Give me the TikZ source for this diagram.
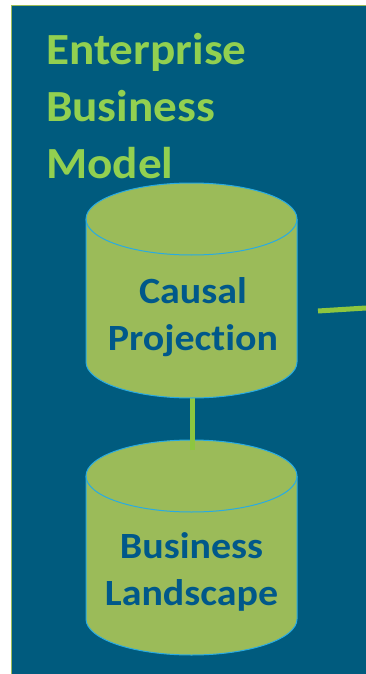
\documentclass[tikz,border=0pt]{standalone}
\usepackage{fontspec}
\setmainfont[Ligatures=NoCommon]{Carlito}
\newfontfamily\titlefont[Ligatures=NoCommon, FakeStretch=1.06]{Carlito}
\newfontfamily\cylfont[Ligatures=NoCommon, FakeStretch=1.08]{Carlito}
\definecolor{bgblue}{HTML}{005B7E}
\definecolor{txtblue}{HTML}{00588A}
\definecolor{cylgreen}{HTML}{9BBB59}
\definecolor{titlegreen}{HTML}{92D050}
\definecolor{edgeblue}{HTML}{29ABE2}
\definecolor{linkgreen}{HTML}{8DC63F}
\tikzset{
  x=1pt, y=1pt,
  dbcyl/.pic={
    \fill[cylgreen] (-105.5,0) -- (-105.5,-143) arc[start angle=180, end angle=360, x radius=105.5, y radius=36]
      -- (105.5,0) arc[start angle=0, end angle=180, x radius=105.5, y radius=36] -- cycle;
    \draw[edgeblue, line width=1pt] (-105.5,0) -- (-105.5,-143) arc[start angle=180, end angle=360, x radius=105.5, y radius=36]
      -- (105.5,0);
    \draw[edgeblue, line width=1pt] (0,0) ellipse[x radius=105.5, y radius=36];
    \coordinate (-top) at (0,36);
    \coordinate (-bot) at (0,-179);
    \coordinate (-east) at (105.5,-72);
  },
  title/.style={font=\titlefont\bfseries\fontsize{44.5}{57}\selectfont, text=titlegreen, align=left, inner sep=0pt, anchor=base west},
  cyltext/.style={font=\cylfont\bfseries\fontsize{37}{47}\selectfont, text=txtblue, align=center, inner sep=0pt, anchor=base},
  link/.style={draw=linkgreen, line width=5pt}
}
\begin{document}
\begin{tikzpicture}
\useasboundingbox (0,0) rectangle (366,-674);
\fill[white] (0,0) rectangle (366,-674);
\filldraw[fill=bgblue, draw=cylgreen, line width=1pt] (11.5,-5.5) rectangle (368,-676);
\node[title] (ttl) at (46,-178) {Enterprise\\Business\\Model};
\pic (c2) at (191.5,-476) {dbcyl};
\coordinate (c2in) at (192,-450);
\draw[link] (c2in) -- (192,-395);
\pic (c1) at (191.5,-219) {dbcyl};
\node[cyltext] (cp) at (193,-350) {Causal\\Projection};
\node[cyltext] (bl) at (191.5,-605) {Business\\Landscape};
\coordinate (r1) at (318,-311);
\coordinate (r2) at (366,-308);
\draw[link] (r1) -- (r2);
\end{tikzpicture}
\end{document}
